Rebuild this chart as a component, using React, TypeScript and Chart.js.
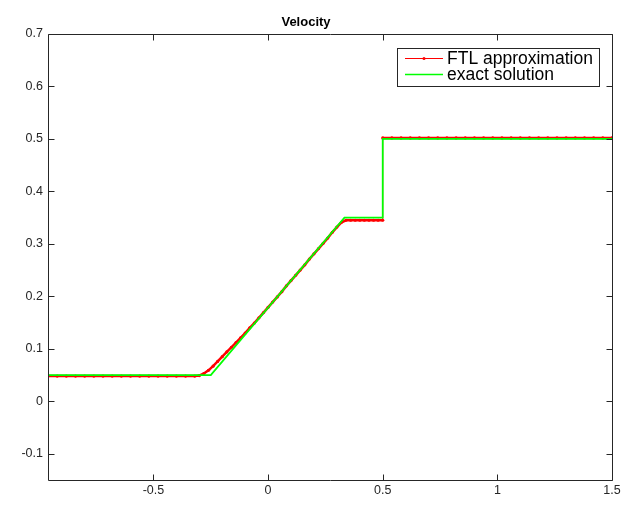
import React, { useEffect, useRef } from "react";
import { Chart, registerables } from "chart.js";

Chart.register(...registerables);

const titleText = "Velocity";
const seriesLabels = ["FTL approximation", "exact solution"];
const seriesColors = ["#ff0000", "#00ff00"];
const xTicks = [-0.5, 0, 0.5, 1, 1.5];
const yTicks = [-0.1, 0, 0.1, 0.2, 0.3, 0.4, 0.5, 0.6, 0.7];
const xRange = [-0.96, 1.5];
const yRange = [-0.15, 0.7];

// FTL approximation (red, dotted markers)
const ftlX = [
  -0.96, -0.92, -0.88, -0.84, -0.8, -0.76, -0.72, -0.68, -0.64, -0.6, -0.56, -0.52, -0.48, -0.44, -0.4, -0.36, -0.32,
  -0.3, -0.28, -0.26, -0.24, -0.22, -0.2, -0.18, -0.16, -0.14, -0.12, -0.1, -0.08, -0.06, -0.04, -0.02,
  0.0, 0.02, 0.04, 0.06, 0.08, 0.1, 0.12, 0.14, 0.16, 0.18, 0.2, 0.22, 0.24, 0.26, 0.28, 0.3, 0.32, 0.34,
  0.36, 0.38, 0.4, 0.42, 0.44, 0.46, 0.48, 0.5,
  0.5, 0.54, 0.58, 0.62, 0.66, 0.7, 0.74, 0.78, 0.82, 0.86, 0.9, 0.94, 0.98, 1.02, 1.06, 1.1, 1.14, 1.18, 1.22,
  1.26, 1.3, 1.34, 1.38, 1.42, 1.46, 1.5,
];
const ftlY = [
  0.048, 0.048, 0.048, 0.048, 0.048, 0.048, 0.048, 0.048, 0.048, 0.048, 0.048, 0.048, 0.048, 0.048, 0.048, 0.048, 0.048,
  0.049, 0.053, 0.059, 0.067, 0.076, 0.085, 0.094, 0.103, 0.112, 0.121, 0.13, 0.14, 0.149, 0.159, 0.169,
  0.179, 0.189, 0.199, 0.209, 0.22, 0.23, 0.24, 0.25, 0.26, 0.271, 0.281, 0.291, 0.301, 0.311, 0.322, 0.332, 0.341, 0.345,
  0.345, 0.345, 0.345, 0.345, 0.345, 0.345, 0.345, 0.345,
  0.502, 0.502, 0.502, 0.502, 0.502, 0.502, 0.502, 0.502, 0.502, 0.502, 0.502, 0.502, 0.502, 0.502, 0.502, 0.502, 0.502,
  0.502, 0.502, 0.502, 0.502, 0.502, 0.502, 0.502, 0.502, 0.502,
];

// exact solution (green)
const exactX = [-0.96, -0.25, 0.333, 0.5, 0.5, 1.5];
const exactY = [0.05, 0.05, 0.35, 0.35, 0.5, 0.5];

const FONT = "'Liberation Sans', Arial, Helvetica, sans-serif";
const FRAME = "#262626";

const framePlugin = {
  id: "frameAndLegend",
  afterDatasetsDraw(chart: any) {
    const { ctx, chartArea: a, scales } = chart;
    ctx.save();
    ctx.strokeStyle = FRAME;
    ctx.lineWidth = 1;
    const L = Math.round(a.left) + 0.5;
    const R = Math.round(a.right) + 0.5;
    const T = Math.round(a.top) + 0.5;
    const B = Math.round(a.bottom) + 0.5;
    const tl = 6;
    ctx.beginPath();
    ctx.rect(L, T, R - L, B - T);
    xTicks.forEach((v) => {
      const p = Math.round(scales.x.getPixelForValue(v)) + 0.5;
      ctx.moveTo(p, B);
      ctx.lineTo(p, B - tl);
      ctx.moveTo(p, T);
      ctx.lineTo(p, T + tl);
    });
    yTicks.forEach((v) => {
      const p = Math.round(scales.y.getPixelForValue(v)) + 0.5;
      ctx.moveTo(L, p);
      ctx.lineTo(L + tl, p);
      ctx.moveTo(R, p);
      ctx.lineTo(R - tl, p);
    });
    ctx.stroke();

    // legend
    ctx.font = `17.5px ${FONT}`;
    const textW = Math.max(...seriesLabels.map((s) => ctx.measureText(s).width));
    const lineLen = 38;
    const boxW = 8 + lineLen + 4 + textW + 6;
    const boxH = 38;
    const boxRight = Math.round(a.right) - 13;
    const boxTop = Math.round(a.top) + 14;
    const boxLeft = Math.round(boxRight - boxW);
    ctx.fillStyle = "#ffffff";
    ctx.fillRect(boxLeft, boxTop, boxRight - boxLeft, boxH);
    ctx.strokeStyle = FRAME;
    ctx.strokeRect(boxLeft + 0.5, boxTop + 0.5, boxRight - boxLeft, boxH);
    seriesLabels.forEach((label, i) => {
      const cy = boxTop + 10.5 + i * 16;
      const x0 = boxLeft + 8;
      ctx.strokeStyle = seriesColors[i];
      ctx.lineWidth = i === 0 ? 1 : 1.5;
      ctx.beginPath();
      ctx.moveTo(x0, cy);
      ctx.lineTo(x0 + lineLen, cy);
      ctx.stroke();
      if (i === 0) {
        ctx.fillStyle = seriesColors[i];
        ctx.beginPath();
        ctx.arc(x0 + lineLen / 2, cy, 1.5, 0, Math.PI * 2);
        ctx.fill();
      }
      ctx.fillStyle = "#000000";
      ctx.textAlign = "left";
      ctx.textBaseline = "middle";
      ctx.fillText(label, x0 + lineLen + 4, cy + 0.5);
    });
    ctx.restore();
  },
};

export default function App() {
  const canvasRef = useRef<HTMLCanvasElement | null>(null);

  useEffect(() => {
    const canvas = canvasRef.current;
    if (!canvas) return;
    const chart = new Chart(canvas, {
      type: "line",
      data: {
        datasets: [
          {
            label: seriesLabels[1],
            data: exactX.map((x, i) => ({ x, y: exactY[i] })),
            borderColor: seriesColors[1],
            backgroundColor: seriesColors[1],
            borderWidth: 1.8,
            pointRadius: 0,
            tension: 0,
            order: 0,
          },
          {
            label: seriesLabels[0],
            data: ftlX.map((x, i) => ({ x, y: ftlY[i] })),
            borderColor: seriesColors[0],
            backgroundColor: seriesColors[0],
            borderWidth: 2.5,
            pointRadius: 1.6,
            pointBorderWidth: 0,
            pointBackgroundColor: seriesColors[0],
            tension: 0,
            order: 1,
            segment: {
              borderWidth: (c: any) => (Math.abs(c.p1.parsed.y - c.p0.parsed.y) > 0.1 ? 1 : 2.5),
            },
          },
        ],
      },
      options: {
        animation: false,
        responsive: false,
        maintainAspectRatio: false,
        layout: { padding: { left: 0, right: 17, top: 0, bottom: 0 } },
        plugins: {
          legend: { display: false },
          tooltip: { enabled: false },
          title: {
            display: true,
            text: titleText,
            color: "#000000",
            font: { family: FONT, size: 13, weight: "bold" },
            padding: { top: 15, bottom: 3.4 },
          },
        },
        scales: {
          x: {
            type: "linear",
            min: xRange[0],
            max: xRange[1],
            grid: { display: false, drawTicks: false },
            border: { display: false },
            ticks: {
              color: FRAME,
              font: { family: FONT, size: 12.5 },
              padding: 3,
              maxRotation: 0,
              autoSkip: false,
              callback: (v: any) => String(Math.round(Number(v) * 100) / 100),
            },
            afterBuildTicks: (s: any) => {
              s.ticks = xTicks.map((v) => ({ value: v }));
            },
            afterFit: (s: any) => {
              s.height = 28;
              s.paddingLeft = 0;
              s.paddingRight = 0;
            },
          },
          y: {
            type: "linear",
            min: yRange[0],
            max: yRange[1],
            grid: { display: false, drawTicks: false },
            border: { display: false },
            ticks: {
              color: FRAME,
              font: { family: FONT, size: 12.5 },
              padding: 5,
              autoSkip: false,
              callback: (v: any) => String(Math.round(Number(v) * 100) / 100),
            },
            afterBuildTicks: (s: any) => {
              s.ticks = yTicks.map((v) => ({ value: v }));
            },
            afterFit: (s: any) => {
              s.width = 48;
              s.paddingTop = 0;
              s.paddingBottom = 0;
            },
          },
        },
      },
      plugins: [framePlugin],
    });
    return () => chart.destroy();
  }, []);

  return (
    <div style={{ position: "absolute", left: 0, top: 0, width: 629, height: 508, background: "#ffffff" }}>
      <canvas ref={canvasRef} width={629} height={508} style={{ width: 629, height: 508, display: "block" }} />
    </div>
  );
}
